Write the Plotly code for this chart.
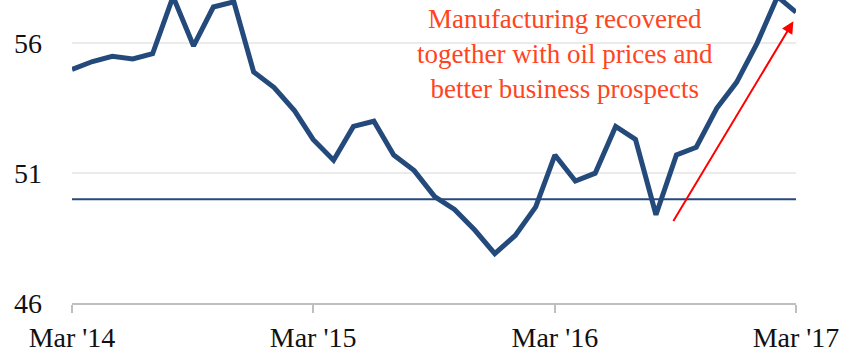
import plotly.graph_objects as go

# Monthly manufacturing PMI, Mar 2014 - Mar 2017
months = [
    "2014-03", "2014-04", "2014-05", "2014-06", "2014-07", "2014-08", "2014-09",
    "2014-10", "2014-11", "2014-12", "2015-01", "2015-02", "2015-03", "2015-04",
    "2015-05", "2015-06", "2015-07", "2015-08", "2015-09", "2015-10", "2015-11",
    "2015-12", "2016-01", "2016-02", "2016-03", "2016-04", "2016-05", "2016-06",
    "2016-07", "2016-08", "2016-09", "2016-10", "2016-11", "2016-12", "2017-01",
    "2017-02", "2017-03",
]
pmi = [
    55.0, 55.3, 55.5, 55.4, 55.6, 57.8, 55.9, 57.4, 57.6, 54.9, 54.3, 53.4,
    52.3, 51.5, 52.8, 53.0, 51.7, 51.1, 50.1, 49.6, 48.8, 47.9, 48.6, 49.7,
    51.7, 50.7, 51.0, 52.8, 52.3, 49.4, 51.7, 52.0, 53.5, 54.5, 56.0, 57.8,
    57.2,
]
threshold = 50
tick_months = ["2014-03", "2015-03", "2016-03", "2017-03"]
tick_text = ["Mar '14", "Mar '15", "Mar '16", "Mar '17"]
y_ticks = [46, 51, 56]

note = "Manufacturing recovered<br>together with oil prices and<br>better business prospects"
arrow_from = ("2016-08-26", 49.1)
arrow_to = ("2017-02-25", 56.85)

serif = "Liberation Serif, Times New Roman, serif"
navy = "#244A7C"

fig = go.Figure()

fig.add_trace(go.Scatter(
    x=[months[0], months[-1]], y=[threshold, threshold],
    mode="lines", line=dict(color=navy, width=2), hoverinfo="skip",
    showlegend=False,
))
fig.add_trace(go.Scatter(
    x=months, y=pmi, mode="lines",
    line=dict(color=navy, width=5), showlegend=False,
))

fig.add_annotation(
    x="2016-03-16", y=0.993, xref="x", yref="paper", yanchor="top",
    text=note, showarrow=False, align="center",
    font=dict(family=serif, size=27, color="#FF4422"),
)
fig.add_annotation(
    x=arrow_to[0], y=arrow_to[1], ax=arrow_from[0], ay=arrow_from[1],
    xref="x", yref="y", axref="x", ayref="y",
    text="", showarrow=True, arrowhead=2, arrowsize=1.2, arrowwidth=2,
    arrowcolor="#FF0000",
)

fig.update_layout(
    width=846, height=355,
    margin=dict(l=72, r=50, t=0, b=52),
    paper_bgcolor="white", plot_bgcolor="white",
    font=dict(family=serif, size=28, color="#111111"),
)
fig.update_xaxes(
    type="date", range=[months[0], months[-1]],
    tickvals=tick_months, ticktext=tick_text,
    showgrid=False, showline=True, linecolor="#BFBFBF", linewidth=2,
    ticks="outside", ticklen=8, tickwidth=2, tickcolor="#BFBFBF",
    zeroline=False,
)
fig.update_yaxes(
    range=[46, 57.67], tickvals=y_ticks,
    showgrid=True, gridcolor="#EBEBEB", gridwidth=1.5,
    showline=False, zeroline=False, ticks="", ticklabelstandoff=29,
)

fig.write_html("out.html")
